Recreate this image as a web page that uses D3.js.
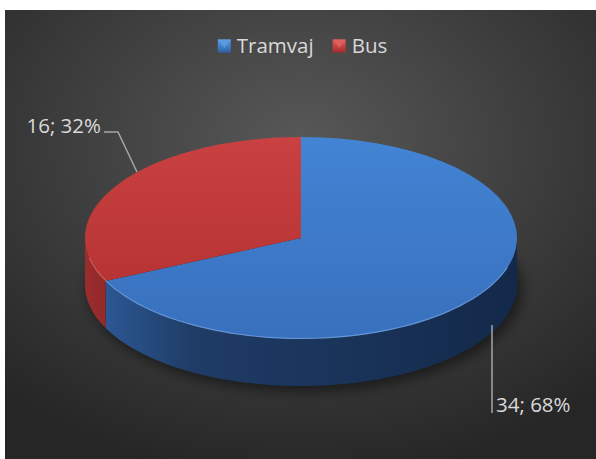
<!DOCTYPE html>
<html><head><meta charset="utf-8">
<script src="https://cdn.jsdelivr.net/npm/d3@7"></script>
<style>body{margin:0;background:#fff;}svg{display:block;}</style>
</head><body>
<script>
// ---- data ----
const categories = ["Tramvaj", "Bus"];
const values = [34, 16];

// ---- layout / style ----
const W = 596, H = 459;
const frame = {x: 5, y: 10, w: 591, h: 449};
const cx = 301, cy = 238, rx = 216, ry = 101, depth = 47;
const font = "'Open Sans', 'DejaVu Sans', sans-serif";
const fontSize = 20.5;
const textColor = "#d9d9d9";
const colors = {
  Tramvaj: {top0: "#4384d4", top1: "#3870bd", side0: "#2f5e9e", side1: "#1f3c66", side2: "#13294a", rim: "#7fb0ee", leg0: "#5b9be0", leg1: "#2d63a8"},
  Bus:     {top0: "#c94141", top1: "#b83434", side0: "#9a2c2c", side1: "#7a2020", side2: "#5a1616", rim: "#e07a7a", leg0: "#e06060", leg1: "#a82a2a"}
};
// label layout (text anchor points and leader-line geometry)
const labelLayout = {
  Tramvaj: {tx: 496, ty: 412, anchor: "start", line: [[492, 325], [492, 413]]},
  Bus:     {tx: 101, ty: 133, anchor: "end",   line: [[104, 132], [118, 132], [137, 172]]}
};

const svg = d3.select("body").append("svg").attr("width", W).attr("height", H);
const defs = svg.append("defs");

// background radial gradient
const bg = defs.append("radialGradient").attr("id", "bg")
  .attr("cx", "50%").attr("cy", "30%").attr("r", "75%");
bg.append("stop").attr("offset", "0%").attr("stop-color", "#585858");
bg.append("stop").attr("offset", "100%").attr("stop-color", "#262626");
svg.append("rect").attr("x", frame.x).attr("y", frame.y).attr("width", frame.w).attr("height", frame.h)
  .attr("fill", "url(#bg)");

// gradients per category
categories.forEach((c, i) => {
  const col = colors[c];
  const gt = defs.append("linearGradient").attr("id", "top" + i).attr("x1", 0).attr("y1", 0).attr("x2", 0).attr("y2", 1);
  gt.append("stop").attr("offset", "0%").attr("stop-color", col.top0);
  gt.append("stop").attr("offset", "100%").attr("stop-color", col.top1);
  const gs = defs.append("linearGradient").attr("id", "side" + i)
    .attr("gradientUnits", "userSpaceOnUse").attr("x1", cx - rx).attr("y1", 0).attr("x2", cx + rx).attr("y2", 0);
  gs.append("stop").attr("offset", "0%").attr("stop-color", col.side0);
  gs.append("stop").attr("offset", "25%").attr("stop-color", col.side1);
  gs.append("stop").attr("offset", "100%").attr("stop-color", col.side2);
  const gl = defs.append("linearGradient").attr("id", "leg" + i).attr("x1", 0).attr("y1", 0).attr("x2", 0).attr("y2", 1);
  gl.append("stop").attr("offset", "0%").attr("stop-color", col.leg0);
  gl.append("stop").attr("offset", "100%").attr("stop-color", col.leg1);
});
const blur = defs.append("filter").attr("id", "blur").attr("x", "-20%").attr("y", "-50%").attr("width", "140%").attr("height", "200%");
blur.append("feGaussianBlur").attr("stdDeviation", 6);

// pie
const pie = d3.pie().sort(null).value(d => d)(values);
const total = d3.sum(values);
const proj = (a, dz = 0) => [cx + rx * Math.sin(a), cy - ry * Math.cos(a) + dz];
const line = d3.line();

// shadow
svg.append("ellipse").attr("cx", cx + 4).attr("cy", cy + depth + 4).attr("rx", rx + 2).attr("ry", ry + 2)
  .attr("fill", "#000").attr("opacity", 0.45).attr("filter", "url(#blur)");

// side walls (front half)
const sides = svg.append("g");
pie.forEach((p, i) => {
  const s = Math.max(p.startAngle, Math.PI / 2), e = Math.min(p.endAngle, 3 * Math.PI / 2);
  if (s >= e) return;
  const n = 80, pts = [];
  for (let k = 0; k <= n; k++) pts.push(proj(s + (e - s) * k / n));
  for (let k = n; k >= 0; k--) pts.push(proj(s + (e - s) * k / n, depth));
  sides.append("path").attr("d", line(pts) + "Z").attr("fill", `url(#side${i})`);
});

// top faces
const arc = d3.arc().innerRadius(0).outerRadius(rx);
const tops = svg.append("g").attr("transform", `translate(${cx},${cy}) scale(1,${ry / rx})`);
tops.selectAll("path").data(pie).join("path")
  .attr("d", arc)
  .attr("fill", (d, i) => `url(#top${i})`);

// rim highlight on front edge of top faces
pie.forEach((p, i) => {
  const s = Math.max(p.startAngle, Math.PI / 2 + 0.3), e = Math.min(p.endAngle, 3 * Math.PI / 2 - 0.2);
  if (s >= e) return;
  const n = 60, pts = [];
  for (let k = 0; k <= n; k++) pts.push(proj(s + (e - s) * k / n, -0.5));
  svg.append("path").attr("d", line(pts)).attr("fill", "none")
    .attr("stroke", colors[categories[i]].rim).attr("stroke-width", 1.2).attr("opacity", 0.6);
});

// data labels
pie.forEach((p, i) => {
  const c = categories[i], L = labelLayout[c];
  svg.append("path").attr("d", line(L.line)).attr("fill", "none")
    .attr("stroke", "#a6a6a6").attr("stroke-width", 1.5);
  svg.append("text").attr("x", L.tx).attr("y", L.ty).attr("text-anchor", L.anchor)
    .attr("font-family", font).attr("font-size", fontSize).attr("fill", textColor)
    .text(`${values[i]}; ${Math.round(values[i] / total * 100)}%`);
});

// legend
const legend = svg.append("g");
const sq = 13, gap = 6, itemGap = 19;
let x = 0;
const items = categories.map((c, i) => {
  const g = legend.append("g").attr("transform", `translate(${x},0)`);
  g.append("rect").attr("x", 0).attr("y", -sq / 2).attr("width", sq).attr("height", sq).attr("fill", `url(#leg${i})`);
  g.append("path").attr("d", `M0,${-sq / 2}L${sq},${-sq / 2}L${sq / 2},${sq * 0.15}Z`)
    .attr("fill", colors[c].leg0).attr("opacity", 0.9);
  const t = g.append("text").attr("x", sq + gap).attr("y", 0).attr("dy", "0.35em")
    .attr("font-family", font).attr("font-size", fontSize).attr("fill", textColor).text(c);
  const w = sq + gap + t.node().getComputedTextLength();
  x += w + itemGap;
  return w;
});
const legW = x - itemGap;
legend.attr("transform", `translate(${(frame.x + frame.w / 2) - legW / 2 + 2},46)`);
</script>
</body></html>
